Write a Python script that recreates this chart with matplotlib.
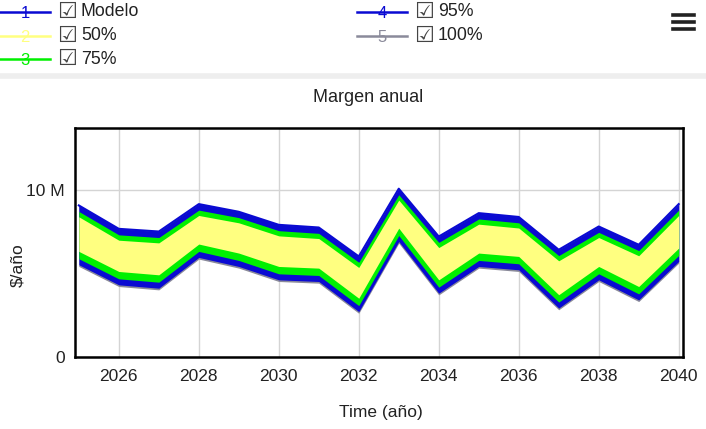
import numpy as np
import matplotlib
matplotlib.use("Agg")
import matplotlib.pyplot as plt
from matplotlib.lines import Line2D

plt.rcParams['font.family'] = ['Liberation Sans', 'DejaVu Sans']

# data (M $/año)
years = np.arange(2025, 2041)
modelo = [9.06, 7.66, 7.50, 9.14, 8.68, 7.90, 7.74, 6.01, 10.06, 7.20, 8.60, 8.37, 6.41, 7.80, 6.71, 9.14]
hi100 = [9.08, 7.68, 7.52, 9.16, 8.70, 7.92, 7.76, 6.03, 10.08, 7.22, 8.62, 8.39, 6.43, 7.82, 6.73, 9.16]
hi95 = [9.06, 7.66, 7.50, 9.14, 8.68, 7.90, 7.74, 6.01, 10.06, 7.20, 8.60, 8.37, 6.41, 7.80, 6.71, 9.14]
hi75 = [8.70, 7.30, 7.14, 8.78, 8.33, 7.55, 7.39, 5.66, 9.70, 6.85, 8.25, 8.02, 6.06, 7.45, 6.36, 8.78]
hi50 = [8.38, 6.98, 6.82, 8.46, 8.02, 7.24, 7.08, 5.35, 9.38, 6.54, 7.94, 7.71, 5.75, 7.14, 6.05, 8.46]
lo50 = [6.31, 5.11, 4.91, 6.75, 6.21, 5.41, 5.31, 3.51, 7.70, 4.61, 6.21, 6.01, 3.72, 5.41, 4.21, 6.51]
lo75 = [5.87, 4.67, 4.47, 6.31, 5.77, 4.97, 4.87, 3.07, 7.26, 4.17, 5.77, 5.57, 3.28, 4.97, 3.77, 6.07]
lo95 = [5.51, 4.31, 4.11, 5.95, 5.41, 4.61, 4.51, 2.71, 6.90, 3.81, 5.41, 5.21, 2.92, 4.61, 3.41, 5.71]
lo100 = [5.41, 4.21, 4.01, 5.85, 5.31, 4.51, 4.41, 2.61, 6.80, 3.71, 5.31, 5.11, 2.82, 4.51, 3.31, 5.61]

xticks = [2026, 2028, 2030, 2032, 2034, 2036, 2038, 2040]
ytick_vals = [0, 10]
ytick_text = ['0', '10 M']

c_blue = '#0a0ad2'
c_yellow = '#ffff80'
c_green = '#00f000'
c_gray = '#8a8a9a'
c_text = '#222222'

M = 1e6
W, H = 706, 429
fig = plt.figure(figsize=(7.06, 4.29), dpi=100)
ax = fig.add_axes([0.106, 0.168, 0.861, 0.534])

ax.fill_between(years, np.array(lo100) * M, np.array(hi100) * M, color=c_gray, lw=0)
ax.fill_between(years, np.array(lo95) * M, np.array(hi95) * M, color=c_blue, lw=0)
ax.fill_between(years, np.array(lo75) * M, np.array(hi75) * M, color=c_green, lw=0)
ax.fill_between(years, np.array(lo50) * M, np.array(hi50) * M, color=c_yellow, lw=0)
ax.plot(years, np.array(modelo) * M, color=c_blue, lw=1.5)

ax.set_xlim(2024.9, 2040.1)
ax.set_ylim(0, 13.7 * M)
ax.set_xticks(xticks)
ax.set_xticklabels([str(t) for t in xticks], fontsize=12.5, color=c_text)
ax.set_yticks([v * M for v in ytick_vals])
ax.set_yticklabels(ytick_text, fontsize=12.5, color=c_text)
ax.tick_params(axis='x', length=0, pad=9)
ax.tick_params(axis='y', length=0, pad=7)
ax.grid(True, color='#d4d4d4', lw=1)
ax.set_axisbelow(True)
for s in ax.spines.values():
    s.set_linewidth(1.8)
fig.text(368 / W, 1 - 98 / H, 'Margen anual', fontsize=13, ha='center', va='center', color=c_text)
ax.set_xlabel('Time (año)', fontsize=12.5, color=c_text)
ax.xaxis.set_label_coords(0.503, -0.21)
ax.set_ylabel('$/año', fontsize=12.5, color=c_text)
ax.yaxis.set_label_coords(-0.082, 0.40)

# legend above the chart
legend_items = [('1', 'Modelo', c_blue, 0, 12),
                ('2', '50%', c_yellow, 0, 36),
                ('3', '75%', c_green, 0, 59),
                ('4', '95%', c_blue, 357, 12),
                ('5', '100%', c_gray, 357, 36)]
for num, name, col, x0, y0 in legend_items:
    fy = 1 - y0 / H
    fig.add_artist(Line2D([x0 / W, (x0 + 50) / W], [fy, fy], color=col, lw=1.8))
    fig.text((x0 + 25) / W, fy - 0.004, num, color=col, fontsize=12, ha='center', va='center')
    fig.text((x0 + 57) / W, fy, '\u2611', fontsize=16, ha='left', va='center',
             family=['DejaVu Sans'], color='#444444')
    fig.text((x0 + 81) / W, fy, name, fontsize=12.8, ha='left', va='center', color=c_text)

# separator and menu icon
fig.add_artist(Line2D([0, 1], [1 - 76 / H, 1 - 76 / H], color='#eeeeee', lw=4))
for yy in [15, 22, 29]:
    fig.add_artist(Line2D([673 / W, 694 / W], [1 - yy / H, 1 - yy / H], color='#222222', lw=2.6))

fig.savefig('out.png', dpi=100)
